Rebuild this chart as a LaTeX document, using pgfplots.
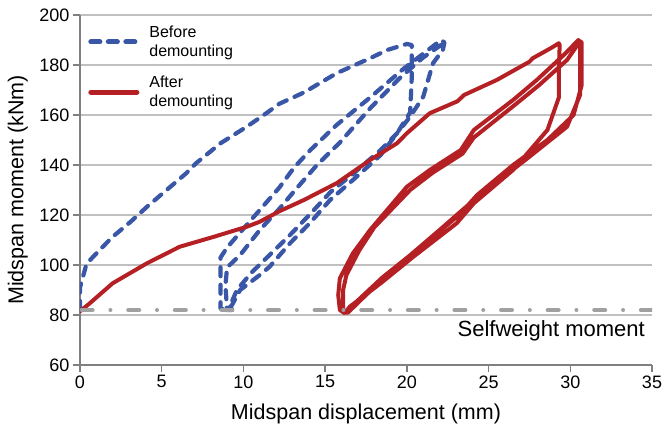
\documentclass[border=0pt]{standalone}
\usepackage{pgfplots}
\pgfplotsset{compat=1.18}
\usepackage{fontspec}
\setmainfont{Liberation Sans}
\usetikzlibrary{calc}
\definecolor{bblue}{RGB}{57,86,167}
\definecolor{rred}{RGB}{181,32,36}
\definecolor{axgray}{RGB}{128,128,128}
\definecolor{gridgray}{RGB}{192,192,192}
\definecolor{swgray}{RGB}{160,160,160}
\begin{document}
\begin{tikzpicture}
\begin{axis}[
  scale only axis, width=572pt, height=350pt,
  xmin=0, xmax=35, ymin=60, ymax=200,
  xtick={0,5,...,35}, ytick={60,80,...,200},
  axis lines*=left,
  axis line style={draw=axgray, line width=1.6pt},
  tick align=outside, major tick length=7pt,
  tick style={draw=axgray, line width=1.4pt},
  ymajorgrids, grid style={draw=gridgray, line width=1.5pt},
  ticklabel style={font=\fontsize{18}{21}\selectfont},
  /pgf/number format/assume math mode=true,
  every axis x label/.style={at={(axis description cs:0.5,-0.155)}, anchor=base},
  every axis y label/.style={at={(axis description cs:-0.0988,0.5)}, rotate=90, anchor=base},
  label style={font=\fontsize{21.5}{24}\selectfont},
  xlabel={Midspan displacement (mm)},
  ylabel={Midspan moment (kNm)},
  legend cell align=left,
  legend style={at={(axis cs:0.5,196.5)}, anchor=north west, draw=none, fill=none,
    font=\fontsize{16}{19}\selectfont, inner sep=0pt, row sep=14pt,
    cells={align=left},
    /tikz/every odd column/.append style={column sep=8pt}},
  legend image code/.code={\draw[#1, line width=5pt, line cap=round] (0pt,0pt) -- (46pt,0pt);},
]
\coordinate (ll) at (rel axis cs:0,0);
\coordinate (ur) at (rel axis cs:1,1);

% Before demounting
\addplot[bblue, line width=4.2pt, dash pattern=on 9pt off 8.5pt, line cap=round, line join=round]
coordinates {
(0,82)(0,91)(0.4,100.5)(1.2,106)(2.0,111.3)(3.1,117.3)(4.1,123.3)(5.3,130)(6.5,136.7)(7.1,140.7)
(8.6,148.7)(10.2,155.3)(11.4,160.7)(12.2,164.5)(13.7,169)(15.7,176.7)(17.75,182.7)(18.8,186)(20,188.4)(20.3,188)
(20.3,186)(20.3,175)(20.2,161)(19.4,152.7)(18.4,144)(16.7,134)(15.3,126)(14.1,117)(12.85,108.7)(11.6,99.3)(11,96)(9.8,90)(9.3,84)(9.0,82)
(8.6,82.5)(8.6,92)(8.6,103)(9.0,107)(10.2,116)(11.4,125)(12.2,131)(13.1,139)(14.1,146)(15.7,156)(17.75,167)(19.8,178.5)(21.3,186)(22.1,190)
(22.3,189)(22.2,186)(21.6,180.7)(21.0,167.3)(20.2,159.3)(19.4,152.7)(18.4,146)(16.8,137)(15.3,129)(14.1,120.5)(12.85,112)(11.6,104)(10.5,97)(9.6,90)(9.2,84)(9.3,82)
(9.0,82)(8.9,92)(9.0,99)(9.8,104)(11,114)(12.2,122.5)(13.3,131)(14.5,140)(15.9,149)(17.8,163)(19.6,175)(21,183)(22.2,188.5)
};
\addlegendentry{Before\\demounting}

% After demounting
\addplot[rred, line width=4pt, line join=round, line cap=round]
coordinates {
(0,81.5)(0.6,84.7)(2.0,92.7)(4.1,100.7)(6.1,107.3)(8.2,111.3)(10.2,115.3)(11.0,117.3)(12.2,121.5)(13.7,126)
(15.1,130.7)(15.7,132.7)(17.75,142)(19.4,148.7)(20,152.7)(21.4,160.7)(23.1,165.5)(23.5,168)(25.5,174)(27.5,181.3)
(27.7,182.7)(28.8,186.7)(29.3,188.7)
(29.35,188)(29.3,178)(29.3,167)(28.6,154)(26.5,138)(24.1,124.7)(23.05,116.7)(20.4,103.3)(18.4,92.7)(16.5,83.3)(16.2,80.7)
(15.9,82)(15.8,88)(15.9,94.7)(16.7,104.7)(17.75,114)(20,131.3)(21.4,138)(23.3,146)(23.7,150)(24.1,154)(26.5,166)(27.95,174)(29.6,184)(30.5,190)
(30.6,189)(30.6,178)(30.6,168)(29.8,155.3)(27.5,143.3)(24.1,126)(22,114)(19.5,100)(17.5,88)(16.4,81)
(16.1,81)(16.1,90)(16.3,96)(17.1,106)(18,115)(20.2,130)(21.6,137)(23.4,144.5)(24.1,151)(26.6,164)(28.1,172)(29.8,182)(30.6,189.5)
(30.7,189)(30.7,172)(30.2,160)(28.6,150)(26.5,140)(24.3,128)(23.2,120)(20.6,106)(18.5,95)(16.7,84)(16.3,81)
};
\addlegendentry{After\\demounting}

% Selfweight moment
\addplot[swgray, line width=4pt, line cap=round, dash pattern=on 11pt off 17.8pt on 0pt off 17.8pt, forget plot]
coordinates {(0.1,82)(35,82)};
\node[anchor=base east, inner sep=0pt, font=\fontsize{22}{26}\selectfont] at (axis cs:34.57,71.6) {Selfweight moment};
\end{axis}
\pgfresetboundingbox
\path ($(ll)+(-80pt,-66pt)$) rectangle ($(ur)+(10pt,15pt)$);
\end{tikzpicture}
\end{document}
